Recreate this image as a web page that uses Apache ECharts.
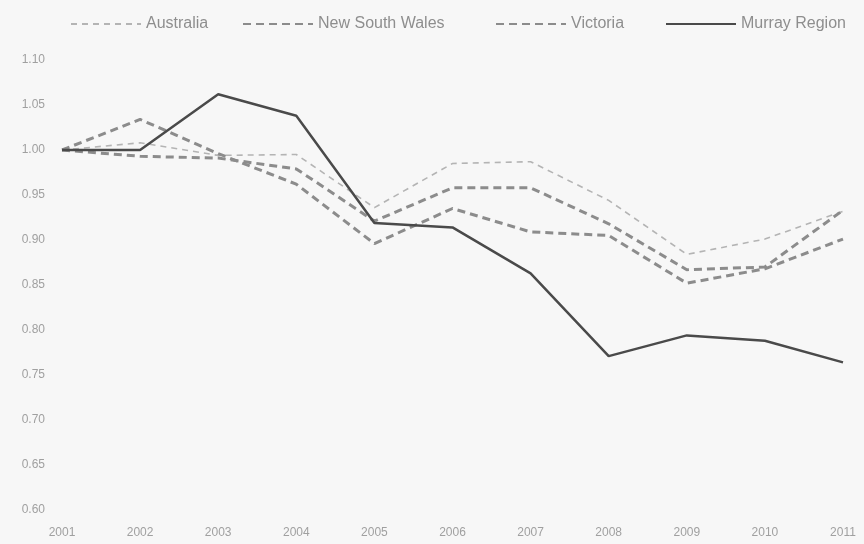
<!DOCTYPE html>
<html>
<head>
<meta charset="utf-8">
<script src="https://cdn.jsdelivr.net/npm/echarts@6/dist/echarts.min.js"></script>
<style>
  html, body { margin: 0; padding: 0; background: #f7f7f7; }
  #chart { width: 864px; height: 544px; }
</style>
</head>
<body>
<div id="chart"></div>
<script>
// Index of output relative to 2001 (2001 = 1.00)
const years = ['2001', '2002', '2003', '2004', '2005', '2006', '2007', '2008', '2009', '2010', '2011'];
const australia = [1.000, 1.008, 0.994, 0.995, 0.936, 0.985, 0.987, 0.944, 0.884, 0.901, 0.932];
const newSouthWales = [1.000, 0.993, 0.991, 0.979, 0.921, 0.958, 0.958, 0.918, 0.867, 0.870, 0.933];
const victoria = [1.000, 1.034, 0.996, 0.962, 0.896, 0.935, 0.909, 0.905, 0.852, 0.868, 0.901];
const murrayRegion = [1.000, 1.000, 1.062, 1.038, 0.919, 0.914, 0.863, 0.771, 0.794, 0.788, 0.764];

const seriesNames = ['Australia', 'New South Wales', 'Victoria', 'Murray Region'];
const legendLefts = [65, 237, 490, 660];

const font = "'Liberation Sans Narrow', 'Liberation Sans', sans-serif";

// one legend per entry so each key sits at its own spot across the top
const legends = seriesNames.map((name, i) => ({
  data: [name],
  top: 11,
  left: legendLefts[i],
  itemWidth: 70,
  itemHeight: 14,
  itemStyle: { opacity: 0 },
  textStyle: { color: '#8e8e8e', fontSize: 16, fontFamily: font }
}));

const chart = echarts.init(document.getElementById('chart'));
chart.setOption({
  backgroundColor: '#f7f7f7',
  animation: false,
  textStyle: { fontFamily: font },
  legend: legends,
  grid: { left: 62, right: 21, top: 60, bottom: 34 },
  xAxis: {
    type: 'category',
    data: years,
    boundaryGap: false,
    axisLine: { show: false },
    axisTick: { show: false },
    axisLabel: { color: '#a0a0a0', fontSize: 12, margin: 17, fontFamily: font }
  },
  yAxis: {
    type: 'value',
    min: 0.6,
    max: 1.1,
    interval: 0.05,
    splitLine: { show: false },
    axisLine: { show: false },
    axisTick: { show: false },
    axisLabel: {
      color: '#a0a0a0', fontSize: 12, margin: 17, fontFamily: font,
      formatter: v => v.toFixed(2)
    }
  },
  series: [
    {
      name: 'Australia', type: 'line', data: australia, symbol: 'none',
      lineStyle: { color: '#b4b4b4', width: 1.6, type: [6, 5] },
      itemStyle: { color: '#b4b4b4' }
    },
    {
      name: 'New South Wales', type: 'line', data: newSouthWales, symbol: 'none',
      lineStyle: { color: '#8c8c8c', width: 3, type: [8, 5] },
      itemStyle: { color: '#8c8c8c' }
    },
    {
      name: 'Victoria', type: 'line', data: victoria, symbol: 'none',
      lineStyle: { color: '#8c8c8c', width: 3, type: [8, 5] },
      itemStyle: { color: '#8c8c8c' }
    },
    {
      name: 'Murray Region', type: 'line', data: murrayRegion, symbol: 'none',
      lineStyle: { color: '#4a4a4a', width: 2.5 },
      itemStyle: { color: '#4a4a4a' }
    }
  ]
});
</script>
</body>
</html>
